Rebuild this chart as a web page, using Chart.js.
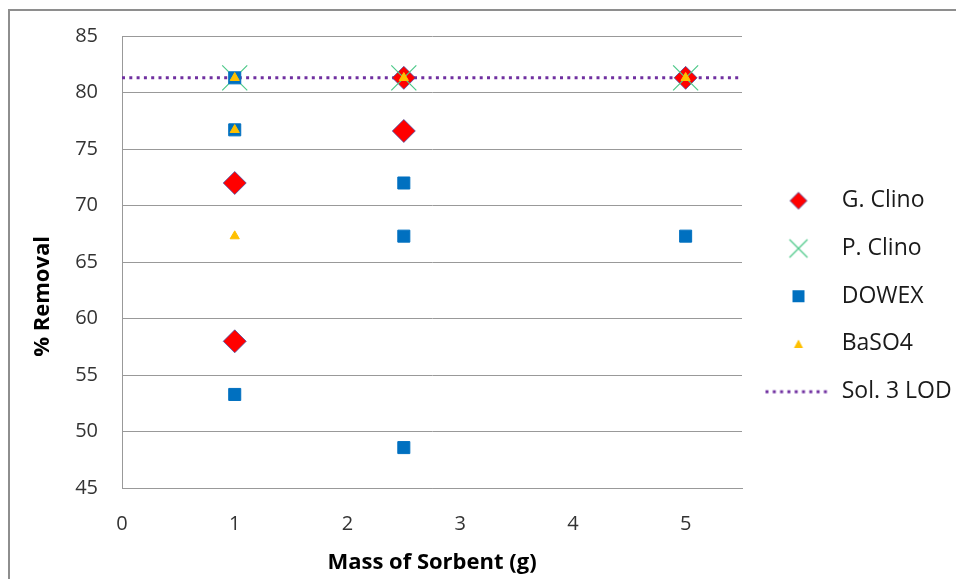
<!DOCTYPE html>
<html>
<head>
<meta charset="utf-8">
<title>% Removal vs Mass of Sorbent</title>
<script src="https://cdn.jsdelivr.net/npm/chart.js@4"></script>
<style>
  html, body { margin: 0; padding: 0; background: #fff; }
  #wrap { position: relative; width: 956px; height: 579px; overflow: hidden; }
  #wrap canvas { position: absolute; left: 0; top: 0; }
  #frame {
    position: absolute; left: 8px; top: 9px; right: -10px; bottom: -10px;
    border-left: 2px solid #8e8e8e; border-top: 2px solid #8e8e8e;
    pointer-events: none;
  }
</style>
</head>
<body>
<div id="wrap">
  <canvas id="chart" width="956" height="579"></canvas>
  <div id="frame"></div>
</div>
<script>
// Series names, in legend order
const seriesNames = ['G. Clino', 'P. Clino', 'DOWEX', 'BaSO4', 'Sol. 3 LOD'];

// Mass of sorbent (g) and % removal for each sorbent
const gClinoMass   = [1, 1, 2.5, 2.5, 5];
const gClinoRemove = [72.0, 58.0, 76.6, 81.3, 81.3];

const pClinoMass   = [1, 2.5, 5];
const pClinoRemove = [81.3, 81.3, 81.3];

const dowexMass    = [1, 1, 1, 2.5, 2.5, 2.5, 5];
const dowexRemove  = [81.3, 76.7, 53.3, 72.0, 67.3, 48.6, 67.3];

const baso4Mass    = [1, 1, 1, 2.5, 5];
const baso4Remove  = [81.3, 76.7, 67.3, 81.3, 81.3];

// Limit of detection for solution 3, drawn across the full mass range
const lodValue = 81.3;
const lodSpan  = [0, 5.5];

// Axis ticks
const xTickValues = [0, 1, 2, 3, 4, 5];
const yTickValues = [45, 50, 55, 60, 65, 70, 75, 80, 85];

const pairs = (xs, ys) => xs.map((x, i) => ({ x, y: ys[i] }));

const COLORS = {
  g: '#FF0000', gEdge: 'rgba(60,80,170,0.75)',
  p: '#4FC98A',
  d: '#0070C0',
  b: '#FFC000',
  lod: '#7030A0'
};

// Small legend swatches (one canvas per series)
function legendIcon(kind) {
  const c = document.createElement('canvas');
  c.width = 80; c.height = 24;
  const g = c.getContext('2d');
  const cx = 40, cy = 12;
  if (kind === 'g') {
    g.beginPath();
    g.moveTo(cx - 8.5, cy); g.lineTo(cx, cy - 8.5); g.lineTo(cx + 8.5, cy); g.lineTo(cx, cy + 8.5);
    g.closePath();
    g.fillStyle = COLORS.g; g.fill();
    g.strokeStyle = COLORS.gEdge; g.lineWidth = 1; g.stroke();
  } else if (kind === 'p') {
    g.beginPath();
    g.moveTo(cx - 9, cy - 9); g.lineTo(cx + 9, cy + 9);
    g.moveTo(cx - 9, cy + 9); g.lineTo(cx + 9, cy - 9);
    g.strokeStyle = COLORS.p; g.lineWidth = 1.25; g.stroke();
  } else if (kind === 'd') {
    g.fillStyle = COLORS.d; g.fillRect(cx - 6, cy - 6, 12, 12);
  } else if (kind === 'b') {
    g.beginPath();
    g.moveTo(cx, cy - 4.5); g.lineTo(cx + 4.5, cy + 4); g.lineTo(cx - 4.5, cy + 4);
    g.closePath();
    g.fillStyle = COLORS.b; g.fill();
  } else {
    g.beginPath();
    g.moveTo(cx - 33, cy); g.lineTo(cx + 32, cy);
    g.setLineDash([3, 4.3]);
    g.strokeStyle = COLORS.lod; g.lineWidth = 3; g.stroke();
  }
  return c;
}
const legendIcons = ['g', 'p', 'd', 'b', 'lod'].map(legendIcon);

Chart.defaults.font.family = "'Open Sans', sans-serif";

new Chart(document.getElementById('chart'), {
  type: 'scatter',
  data: {
    datasets: [
      {
        label: seriesNames[0], data: pairs(gClinoMass, gClinoRemove), order: 4,
        pointStyle: 'rectRot', pointRadius: 11.5, backgroundColor: COLORS.g,
        borderColor: COLORS.gEdge, borderWidth: 1
      },
      {
        label: seriesNames[1], data: pairs(pClinoMass, pClinoRemove), order: 3,
        pointStyle: 'crossRot', pointRadius: 17.7, backgroundColor: COLORS.p,
        borderColor: COLORS.p, borderWidth: 1.25
      },
      {
        label: seriesNames[2], data: pairs(dowexMass, dowexRemove), order: 2,
        pointStyle: 'rect', pointRadius: 8.5, backgroundColor: COLORS.d,
        borderColor: COLORS.d, borderWidth: 1
      },
      {
        label: seriesNames[3], data: pairs(baso4Mass, baso4Remove), order: 1,
        pointStyle: 'triangle', pointRadius: 5.3, backgroundColor: COLORS.b,
        borderColor: COLORS.b, borderWidth: 1
      },
      {
        type: 'line', label: seriesNames[4], order: 5,
        data: lodSpan.map(x => ({ x, y: lodValue })),
        borderColor: COLORS.lod, borderWidth: 3, borderDash: [3, 4.3],
        pointRadius: 0, fill: false, showLine: true
      }
    ]
  },
  options: {
    responsive: false,
    animation: false,
    events: [],
    layout: { padding: { left: 0, top: 33, right: 0, bottom: 19.6 } },
    plugins: {
      tooltip: { enabled: false },
      legend: {
        position: 'right',
        align: 'center',
        maxWidth: 214,
        labels: {
          usePointStyle: true,
          pointStyleWidth: 63.45,
          padding: 24.75,
          color: '#1a1a1a',
          font: { size: 23 },
          sort: (a, b) => a.datasetIndex - b.datasetIndex,
          generateLabels(chart) {
            const items = Chart.defaults.plugins.legend.labels.generateLabels(chart);
            items.forEach(it => {
              it.pointStyle = legendIcons[it.datasetIndex];
              it.rotation = 0;
              it.text = it.text + '\u00A0'.repeat(8);
            });
            return items;
          }
        }
      }
    },
    scales: {
      x: {
        type: 'linear', min: 0, max: 5.5,
        afterBuildTicks: s => { s.ticks = xTickValues.map(v => ({ value: v })); },
        afterFit: s => { s.height = 71.1; },
        grid: { display: false, drawTicks: false },
        border: { display: true, color: '#999', width: 1 },
        ticks: { padding: 24, color: '#333', font: { size: 20 } },
        title: {
          display: true, text: 'Mass of Sorbent (g)', color: '#000',
          font: { size: 22, weight: 'bold' }, padding: { top: 0, bottom: -16.8 }
        }
      },
      y: {
        type: 'linear', min: 45, max: 85,
        afterBuildTicks: s => { s.ticks = yTickValues.map(v => ({ value: v })); },
        afterFit: s => { s.width = 122; },
        grid: { color: '#999', lineWidth: 1, drawTicks: false },
        border: { display: true, color: '#999', width: 1 },
        ticks: { padding: 24, color: '#333', font: { size: 20 } },
        title: {
          display: true, text: '% Removal' + '\u00A0'.repeat(12), color: '#000',
          font: { size: 22, weight: 'bold' }, padding: { top: 29.3, bottom: 0 }
        }
      }
    }
  }
});
</script>
</body>
</html>
